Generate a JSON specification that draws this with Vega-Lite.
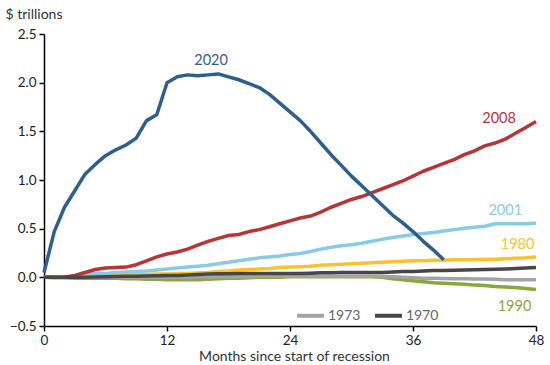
{
  "$schema": "https://vega.github.io/schema/vega-lite/v6.json",
  "width": 492,
  "height": 292,
  "autosize": {"type": "none"},
  "padding": {"left": 44, "top": 34, "right": 14, "bottom": 39},
  "background": "white",
  "config": {
    "view": {"stroke": null},
    "font": "Lato",
    "axis": {"grid": false, "domainColor": "black", "domainWidth": 1.5, "tickColor": "black", "tickWidth": 1.5, "labelFont": "Lato", "titleFont": "Lato", "labelColor": "#222", "titleColor": "#333", "titleFontWeight": "normal"}
  },
  "layer": [
    {
      "data": {
        "values": [
          {"month": 0, "2020": 0.05, "2008": 0, "2001": 0, "1980": 0, "1990": 0, "1973": 0, "1970": 0},
          {"month": 1, "2020": 0.47, "2008": 0, "2001": 0, "1980": 0, "1990": -0.005, "1973": 0, "1970": 0},
          {"month": 2, "2020": 0.72, "2008": 0, "2001": 0, "1980": 0, "1990": -0.005, "1973": 0, "1970": 0},
          {"month": 3, "2020": 0.89, "2008": 0.02, "2001": 0.01, "1980": 0, "1990": -0.01, "1973": 0, "1970": 0},
          {"month": 4, "2020": 1.06, "2008": 0.05, "2001": 0.03, "1980": 0.005, "1990": -0.01, "1973": 0, "1970": 0.002},
          {"month": 5, "2020": 1.16, "2008": 0.08, "2001": 0.04, "1980": 0.01, "1990": -0.01, "1973": 0, "1970": 0.004},
          {"month": 6, "2020": 1.25, "2008": 0.095, "2001": 0.04, "1980": 0.015, "1990": -0.01, "1973": 0, "1970": 0.006},
          {"month": 7, "2020": 1.31, "2008": 0.1, "2001": 0.05, "1980": 0.02, "1990": -0.01, "1973": 0, "1970": 0.008},
          {"month": 8, "2020": 1.36, "2008": 0.105, "2001": 0.055, "1980": 0.025, "1990": -0.015, "1973": 0, "1970": 0.01},
          {"month": 9, "2020": 1.43, "2008": 0.13, "2001": 0.06, "1980": 0.03, "1990": -0.015, "1973": 0, "1970": 0.012},
          {"month": 10, "2020": 1.61, "2008": 0.17, "2001": 0.065, "1980": 0.03, "1990": -0.02, "1973": 0, "1970": 0.014},
          {"month": 11, "2020": 1.67, "2008": 0.21, "2001": 0.075, "1980": 0.035, "1990": -0.02, "1973": 0, "1970": 0.016},
          {"month": 12, "2020": 2.0, "2008": 0.24, "2001": 0.085, "1980": 0.035, "1990": -0.025, "1973": 0, "1970": 0.018},
          {"month": 13, "2020": 2.06, "2008": 0.26, "2001": 0.095, "1980": 0.04, "1990": -0.025, "1973": 0.002, "1970": 0.02},
          {"month": 14, "2020": 2.08, "2008": 0.29, "2001": 0.105, "1980": 0.04, "1990": -0.025, "1973": 0.002, "1970": 0.025},
          {"month": 15, "2020": 2.07, "2008": 0.33, "2001": 0.115, "1980": 0.045, "1990": -0.025, "1973": 0.003, "1970": 0.03},
          {"month": 16, "2020": 2.08, "2008": 0.37, "2001": 0.125, "1980": 0.05, "1990": -0.02, "1973": 0.004, "1970": 0.035},
          {"month": 17, "2020": 2.09, "2008": 0.4, "2001": 0.14, "1980": 0.06, "1990": -0.015, "1973": 0.005, "1970": 0.036},
          {"month": 18, "2020": 2.06, "2008": 0.43, "2001": 0.155, "1980": 0.065, "1990": -0.01, "1973": 0.006, "1970": 0.038},
          {"month": 19, "2020": 2.03, "2008": 0.44, "2001": 0.17, "1980": 0.075, "1990": -0.01, "1973": 0.007, "1970": 0.04},
          {"month": 20, "2020": 1.99, "2008": 0.47, "2001": 0.185, "1980": 0.08, "1990": -0.005, "1973": 0.008, "1970": 0.04},
          {"month": 21, "2020": 1.95, "2008": 0.49, "2001": 0.2, "1980": 0.085, "1990": 0, "1973": 0.01, "1970": 0.04},
          {"month": 22, "2020": 1.88, "2008": 0.52, "2001": 0.21, "1980": 0.09, "1990": 0, "1973": 0.01, "1970": 0.04},
          {"month": 23, "2020": 1.79, "2008": 0.55, "2001": 0.22, "1980": 0.1, "1990": 0, "1973": 0.01, "1970": 0.04},
          {"month": 24, "2020": 1.7, "2008": 0.58, "2001": 0.235, "1980": 0.105, "1990": 0.005, "1973": 0.01, "1970": 0.04},
          {"month": 25, "2020": 1.61, "2008": 0.61, "2001": 0.245, "1980": 0.11, "1990": 0.005, "1973": 0.01, "1970": 0.04},
          {"month": 26, "2020": 1.5, "2008": 0.63, "2001": 0.265, "1980": 0.115, "1990": 0.005, "1973": 0.01, "1970": 0.042},
          {"month": 27, "2020": 1.38, "2008": 0.67, "2001": 0.29, "1980": 0.125, "1990": 0.005, "1973": 0.01, "1970": 0.046},
          {"month": 28, "2020": 1.26, "2008": 0.72, "2001": 0.31, "1980": 0.13, "1990": 0.005, "1973": 0.01, "1970": 0.048},
          {"month": 29, "2020": 1.15, "2008": 0.76, "2001": 0.325, "1980": 0.135, "1990": 0.005, "1973": 0.01, "1970": 0.05},
          {"month": 30, "2020": 1.04, "2008": 0.8, "2001": 0.335, "1980": 0.14, "1990": 0.005, "1973": 0.01, "1970": 0.05},
          {"month": 31, "2020": 0.94, "2008": 0.83, "2001": 0.35, "1980": 0.145, "1990": 0.005, "1973": 0.01, "1970": 0.05},
          {"month": 32, "2020": 0.84, "2008": 0.87, "2001": 0.37, "1980": 0.15, "1990": 0.005, "1973": 0.01, "1970": 0.05},
          {"month": 33, "2020": 0.74, "2008": 0.91, "2001": 0.39, "1980": 0.155, "1990": 0, "1973": 0.008, "1970": 0.05},
          {"month": 34, "2020": 0.64, "2008": 0.95, "2001": 0.41, "1980": 0.16, "1990": -0.015, "1973": 0.005, "1970": 0.055},
          {"month": 35, "2020": 0.56, "2008": 0.99, "2001": 0.425, "1980": 0.165, "1990": -0.025, "1973": 0, "1970": 0.06},
          {"month": 36, "2020": 0.47, "2008": 1.04, "2001": 0.44, "1980": 0.17, "1990": -0.035, "1973": -0.005, "1970": 0.06},
          {"month": 37, "2020": 0.37, "2008": 1.09, "2001": 0.45, "1980": 0.17, "1990": -0.045, "1973": -0.01, "1970": 0.065},
          {"month": 38, "2020": 0.28, "2008": 1.13, "2001": 0.46, "1980": 0.175, "1990": -0.055, "1973": -0.01, "1970": 0.07},
          {"month": 39, "2020": 0.18, "2008": 1.17, "2001": 0.475, "1980": 0.175, "1990": -0.06, "1973": -0.012, "1970": 0.07},
          {"month": 40, "2020": null, "2008": 1.21, "2001": 0.49, "1980": 0.18, "1990": -0.065, "1973": -0.014, "1970": 0.072},
          {"month": 41, "2020": null, "2008": 1.26, "2001": 0.505, "1980": 0.18, "1990": -0.07, "1973": -0.015, "1970": 0.075},
          {"month": 42, "2020": null, "2008": 1.3, "2001": 0.515, "1980": 0.18, "1990": -0.08, "1973": -0.016, "1970": 0.078},
          {"month": 43, "2020": null, "2008": 1.35, "2001": 0.525, "1980": 0.185, "1990": -0.085, "1973": -0.018, "1970": 0.08},
          {"month": 44, "2020": null, "2008": 1.38, "2001": 0.55, "1980": 0.185, "1990": -0.095, "1973": -0.02, "1970": 0.082},
          {"month": 45, "2020": null, "2008": 1.42, "2001": 0.55, "1980": 0.19, "1990": -0.1, "1973": -0.025, "1970": 0.085},
          {"month": 46, "2020": null, "2008": 1.48, "2001": 0.55, "1980": 0.195, "1990": -0.105, "1973": -0.025, "1970": 0.09},
          {"month": 47, "2020": null, "2008": 1.54, "2001": 0.55, "1980": 0.2, "1990": -0.115, "1973": -0.025, "1970": 0.095},
          {"month": 48, "2020": null, "2008": 1.6, "2001": 0.555, "1980": 0.21, "1990": -0.125, "1973": -0.025, "1970": 0.1}
        ]
      },
      "transform": [
        {"fold": ["1990", "1973", "1980", "2001", "2008", "2020", "1970"], "as": ["series", "value"]}
      ],
      "mark": {"type": "line", "strokeWidth": 3.5, "strokeJoin": "round", "clip": false},
      "encoding": {
        "x": {
          "field": "month", "type": "quantitative",
          "scale": {"domain": [0, 48], "nice": false, "zero": false},
          "axis": {"values": [0, 12, 24, 36, 48], "title": "Months since start of recession", "titleFontSize": 14, "titleY": 34, "titleX": 250, "titleBaseline": "alphabetic", "labelFontSize": 13.5, "tickSize": 5, "labelPadding": 2, "labelFlush": false}
        },
        "y": {
          "field": "value", "type": "quantitative",
          "scale": {"domain": [-0.5, 2.5], "nice": false},
          "axis": {"values": [-0.5, 0, 0.5, 1, 1.5, 2, 2.5], "format": ".1f", "title": "$ trillions", "titleAngle": 0, "titleAlign": "left", "titleX": -39, "titleY": -16, "titleBaseline": "alphabetic", "titleFontSize": 14, "labelFontSize": 13.5, "tickSize": 5, "labelPadding": 3}
        },
        "color": {
          "field": "series", "type": "nominal",
          "scale": {
            "domain": ["2020", "2008", "2001", "1980", "1990", "1973", "1970"],
            "range": ["#2e5f8c", "#b73437", "#87cbe6", "#f9c22e", "#87a93a", "#a3a3a3", "#474747"]
          },
          "legend": {"values": ["1973", "1970"], "orient": "none", "legendX": 251, "legendY": 266, "direction": "horizontal", "title": null, "symbolType": "stroke", "symbolSize": 729, "symbolStrokeWidth": 4, "labelFontSize": 14, "labelColor": "#666", "labelFont": "Lato", "labelOffset": 2, "columnPadding": 6}
        }
      }
    },
    {
      "data": {
        "values": [
          {"label": "2020", "month": 16.3, "value": 2.225},
          {"label": "2008", "month": 44.4, "value": 1.63},
          {"label": "2001", "month": 45.0, "value": 0.683},
          {"label": "1980", "month": 46.2, "value": 0.334},
          {"label": "1990", "month": 45.9, "value": -0.305}
        ]
      },
      "mark": {"type": "text", "fontSize": 14.5, "align": "center", "baseline": "middle", "font": "Lato"},
      "encoding": {
        "x": {"field": "month", "type": "quantitative"},
        "y": {"field": "value", "type": "quantitative"},
        "text": {"field": "label"},
        "color": {"field": "label", "type": "nominal"}
      }
    }
  ]
}
